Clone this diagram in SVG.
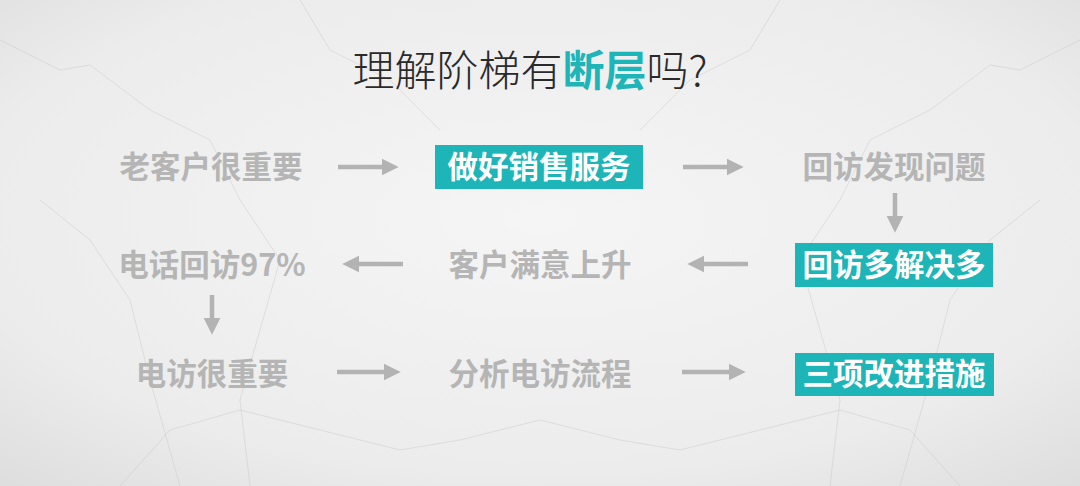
<svg xmlns="http://www.w3.org/2000/svg" width="1080" height="486" viewBox="0 0 1080 486">
<defs>
<radialGradient id="bg" cx="50%" cy="45%" r="75%">
<stop offset="0" stop-color="#f5f5f5"/>
<stop offset="0.7" stop-color="#ececec"/>
<stop offset="1" stop-color="#dddddd"/>
</radialGradient>
<marker id="ah" viewBox="0 0 10 10" refX="2" refY="5" markerWidth="3.8" markerHeight="3.8" markerUnits="strokeWidth" orient="auto">
<path d="M0,0 L10,5 L0,10 Z" fill="#b3b3b3"/>
</marker>
<style>
.lbl{font-family:"Noto Sans CJK SC","Noto Sans",sans-serif;font-weight:700;font-size:30.5px;text-anchor:middle;fill:#b5b5b5}
.hl{fill:#ffffff}
.box{fill:#1db5b8}
.arr{stroke:#b3b3b3;stroke-width:4.5;fill:none;marker-end:url(#ah)}
.vein{stroke:#cccccc;stroke-width:1;fill:none;opacity:0.5}
</style>
</defs>
<rect width="1080" height="486" fill="url(#bg)"/>
<g id="marble">
<path class="vein" d="M0,40 L60,70 L90,65 L150,110 L210,140 L240,200 L280,260 L260,330 L240,400 L250,486"/>
<path class="vein" d="M1080,40 L1020,70 L990,65 L930,110 L870,140 L840,200 L800,260 L820,330 L840,400 L830,486"/>
<path class="vein" d="M120,486 L170,430 L240,410 L320,430 L400,450 L460,440 L540,420"/>
<path class="vein" d="M960,486 L910,430 L840,410 L760,430 L680,450 L620,440 L540,420"/>
<path class="vein" d="M40,200 L90,240 L130,300 L150,380 L180,486"/>
<path class="vein" d="M1040,200 L990,240 L950,300 L930,380 L900,486"/>
<path class="vein" d="M300,0 L330,50 L390,80 L440,130"/>
<path class="vein" d="M780,0 L750,50 L690,80 L640,130"/>
</g>
<g id="title">
<text x="530" y="86" font-family="'Noto Sans CJK SC','Noto Sans',sans-serif" font-size="42" font-weight="300" fill="#2a2a2a" text-anchor="middle">理解阶梯有<tspan font-weight="700" fill="#1db5b8">断层</tspan>吗?</text>
</g>
<g id="connectors">
<line class="arr" x1="338" y1="167" x2="385" y2="167"/>
<line class="arr" x1="683" y1="167" x2="730" y2="167"/>
<line class="arr" x1="895" y1="193" x2="895" y2="219"/>
<line class="arr" x1="748" y1="264" x2="701" y2="264"/>
<line class="arr" x1="403" y1="264" x2="356" y2="264"/>
<line class="arr" x1="212" y1="295" x2="212" y2="321"/>
<line class="arr" x1="337" y1="372" x2="387" y2="372"/>
<line class="arr" x1="682" y1="372" x2="732" y2="372"/>
</g>
<g id="n1"><text class="lbl" x="211" y="178">老客户很重要</text></g>
<g id="n2"><rect class="box" x="435" y="145" width="208" height="44"/><text class="lbl hl" x="539" y="178">做好销售服务</text></g>
<g id="n3"><text class="lbl" x="894" y="178">回访发现问题</text></g>
<g id="n4"><rect class="box" x="795" y="243" width="198" height="44"/><text class="lbl hl" x="894" y="276">回访多解决多</text></g>
<g id="n5"><text class="lbl" x="540" y="276">客户满意上升</text></g>
<g id="n6"><text class="lbl" x="212" y="276">电话回访97%</text></g>
<g id="n7"><text class="lbl" x="212" y="385">电访很重要</text></g>
<g id="n8"><text class="lbl" x="540" y="385">分析电访流程</text></g>
<g id="n9"><rect class="box" x="795" y="353" width="199" height="43"/><text class="lbl hl" x="894" y="385">三项改进措施</text></g>
</svg>
